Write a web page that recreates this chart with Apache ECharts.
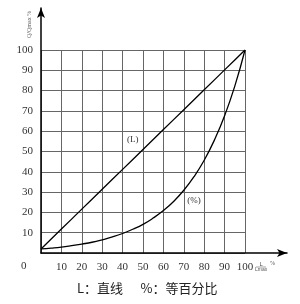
<!DOCTYPE html>
<html><head><meta charset="utf-8">
<script src="https://cdn.jsdelivr.net/npm/echarts@6/dist/echarts.min.js"></script>
<style>html,body{margin:0;padding:0;background:#fff}#c{width:300px;height:304px}</style>
</head><body><div id="c"></div>
<script>
const xValues = [0,5,10,15,20,25,30,35,40,45,50,55,60,65,70,75,80,85,90,95,100];
const linearValues = [2,6.9,11.8,16.7,21.6,26.5,31.4,36.3,41.2,46.1,51,55.9,60.8,65.7,70.6,75.5,80.4,85.3,90.2,95.1,100];
const equalPctValues = [2.0,2.4,2.9,3.6,4.4,5.3,6.5,7.9,9.6,11.7,14.1,17.2,20.9,25.4,30.9,37.6,45.7,55.6,67.6,82.2,100];
const tickLabels = ['10','20','30','40','50','60','70','80','90','100'];
const footnote = 'L：直线      %：等百分比';

const chart = echarts.init(document.getElementById('c'), null, {renderer:'canvas'});
const serif = 'Liberation Serif';
chart.setOption({
  animation:false,
  backgroundColor:'#fff',
  grid:[
    {left:41,right:55,top:50,bottom:51},
    {left:41,right:13,top:8,bottom:51}
  ],
  xAxis:[
    {gridIndex:0,type:'value',min:0,max:100,interval:10,
     axisLine:{show:false},axisTick:{show:false},
     axisLabel:{showMinLabel:false,margin:9,fontFamily:serif,fontSize:11,color:'#333'},
     splitLine:{show:true,lineStyle:{color:'#666',width:1}}},
    {gridIndex:1,type:'value',min:0,max:1,
     axisLine:{show:true,symbol:['none','arrow'],symbolSize:[6,10],lineStyle:{color:'#000',width:1.5}},
     axisTick:{show:false},axisLabel:{show:false},splitLine:{show:false}}
  ],
  yAxis:[
    {gridIndex:0,type:'value',min:0,max:100,interval:10,
     axisLine:{show:false},axisTick:{show:false},
     axisLabel:{showMinLabel:false,margin:8,fontFamily:serif,fontSize:11,color:'#333'},
     splitLine:{show:true,lineStyle:{color:'#666',width:1}}},
    {gridIndex:1,type:'value',min:0,max:1,
     axisLine:{show:true,symbol:['none','arrow'],symbolSize:[6,10],lineStyle:{color:'#000',width:1.5}},
     axisTick:{show:false},axisLabel:{show:false},splitLine:{show:false}}
  ],
  series:[
    {type:'line',xAxisIndex:0,yAxisIndex:0,showSymbol:false,
     data:xValues.map((x,i)=>[x,linearValues[i]]),
     lineStyle:{color:'#000',width:1.3},
     markPoint:{symbol:'circle',symbolSize:0,data:[{coord:[45,56],label:{show:true,formatter:'(L)',fontFamily:serif,fontSize:9,color:'#333'}}]}},
    {type:'line',xAxisIndex:0,yAxisIndex:0,showSymbol:false,smooth:true,
     data:xValues.map((x,i)=>[x,equalPctValues[i]]),
     lineStyle:{color:'#000',width:1.3},
     markPoint:{symbol:'circle',symbolSize:0,data:[{coord:[75,26],label:{show:true,formatter:'(%)',fontFamily:serif,fontSize:9,color:'#333'}}]}}
  ],
  graphic:[
    {type:'text',left:21,top:261,style:{text:'0',font:'11px "Liberation Serif"',fill:'#333'}},
    {type:'text',left:77,top:282,style:{text:footnote,font:'13px "Noto Sans CJK SC"',fill:'#222'}},
    {type:'text',left:255,top:261,style:{text:'{n|L}\n{d|Lmax}',rich:{n:{fontSize:6,align:'center',fill:'#555'},d:{fontSize:5,align:'center',fill:'#555'}},fill:'#555'}},
    {type:'line',shape:{x1:256,y1:267,x2:266,y2:267},style:{stroke:'#666',lineWidth:0.6}},
    {type:'text',left:270,top:260,style:{text:'%',font:'6px "Liberation Serif"',fill:'#555'}},
    {type:'text',x:26,y:38,rotation:Math.PI/2,style:{text:'Q/Qmax %',font:'6px "Liberation Serif"',fill:'#555'}}
  ]
});
</script></body></html>
